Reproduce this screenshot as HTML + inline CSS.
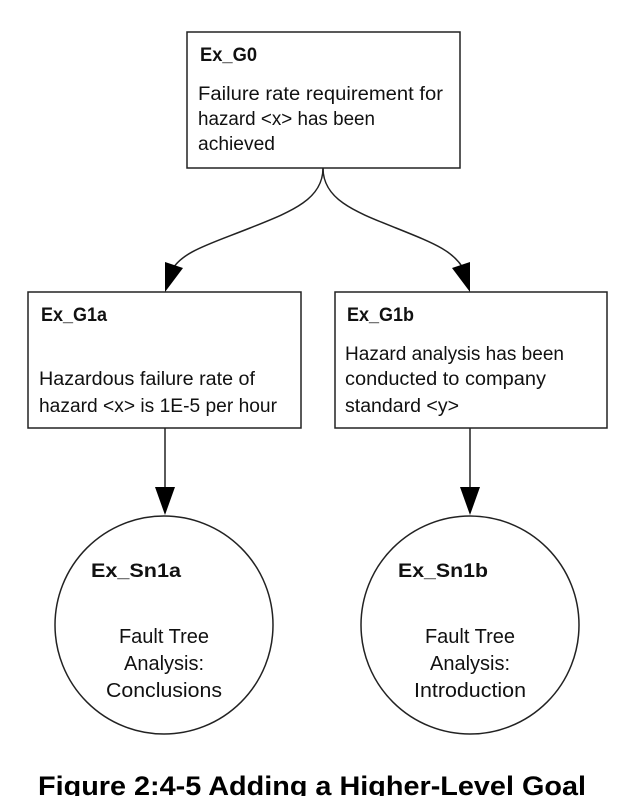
<!DOCTYPE html>
<html><head><meta charset="utf-8"><style>
html,body{margin:0;padding:0;background:#fff;}
svg{display:block;}
.c{font-family:"Liberation Sans",sans-serif;font-size:19px;fill:#111;}
.cb{font-family:"Liberation Sans",sans-serif;font-size:19px;font-weight:bold;fill:#111;}
.a{font-family:"Liberation Sans",sans-serif;font-size:20px;fill:#111;}
.ab{font-family:"Liberation Sans",sans-serif;font-size:19px;font-weight:bold;fill:#111;}
</style></head><body>
<svg width="632" height="796" viewBox="0 0 632 796" xmlns="http://www.w3.org/2000/svg">
<g fill="none" stroke="#222" stroke-width="1.5">
<rect x="187" y="32" width="273" height="136"/>
<rect x="28" y="292" width="273" height="136"/>
<rect x="335" y="292" width="272" height="136"/>
<ellipse cx="164" cy="625" rx="109" ry="109"/>
<ellipse cx="470" cy="625" rx="109" ry="109"/>
<path d="M323 168 C323 200 290 212 250 228 C210 244 180 252 171 272"/>
<path d="M323 168 C323 200 356 212 396 228 C436 244 456 252 465 272"/>
<line x1="165" y1="428" x2="165" y2="490"/>
<line x1="470" y1="428" x2="470" y2="490"/>
</g>
<g fill="#000">
<polygon points="165,292 165,262 183,268"/>
<polygon points="470,292 452,268 470,262"/>
<polygon points="165,515 155,487 175,487"/>
<polygon points="470,515 460,487 480,487"/>
</g>
<text class="cb" x="200" y="61" textLength="57" lengthAdjust="spacingAndGlyphs">Ex_G0</text>
<text class="c" x="198" y="100" textLength="245" lengthAdjust="spacingAndGlyphs">Failure rate requirement for</text>
<text class="c" x="198" y="125" textLength="177" lengthAdjust="spacingAndGlyphs">hazard &lt;x&gt; has been</text>
<text class="c" x="198" y="150" textLength="77" lengthAdjust="spacingAndGlyphs">achieved</text>
<text class="cb" x="41" y="321" textLength="66" lengthAdjust="spacingAndGlyphs">Ex_G1a</text>
<text class="c" x="39" y="385" textLength="216" lengthAdjust="spacingAndGlyphs">Hazardous failure rate of</text>
<text class="c" x="39" y="412" textLength="238" lengthAdjust="spacingAndGlyphs">hazard &lt;x&gt; is 1E-5 per hour</text>
<text class="cb" x="347" y="321" textLength="67" lengthAdjust="spacingAndGlyphs">Ex_G1b</text>
<text class="c" x="345" y="360" textLength="219" lengthAdjust="spacingAndGlyphs">Hazard analysis has been</text>
<text class="c" x="345" y="385" textLength="201" lengthAdjust="spacingAndGlyphs">conducted to company</text>
<text class="c" x="345" y="412" textLength="114" lengthAdjust="spacingAndGlyphs">standard &lt;y&gt;</text>
<text class="ab" x="91" y="577" textLength="90" lengthAdjust="spacingAndGlyphs">Ex_Sn1a</text>
<text class="a" x="164" y="643" text-anchor="middle">Fault Tree</text>
<text class="a" x="164" y="670" text-anchor="middle">Analysis:</text>
<text class="a" x="164" y="697" text-anchor="middle" textLength="116" lengthAdjust="spacingAndGlyphs">Conclusions</text>
<text class="ab" x="398" y="577" textLength="90" lengthAdjust="spacingAndGlyphs">Ex_Sn1b</text>
<text class="a" x="470" y="643" text-anchor="middle">Fault Tree</text>
<text class="a" x="470" y="670" text-anchor="middle">Analysis:</text>
<text class="a" x="470" y="697" text-anchor="middle" textLength="112" lengthAdjust="spacingAndGlyphs">Introduction</text>
<text x="38" y="795" font-family="Liberation Sans, sans-serif" font-weight="bold" font-size="27" fill="#000" textLength="548" lengthAdjust="spacingAndGlyphs">Figure 2:4-5 Adding a Higher-Level Goal</text>
</svg>
</body></html>
